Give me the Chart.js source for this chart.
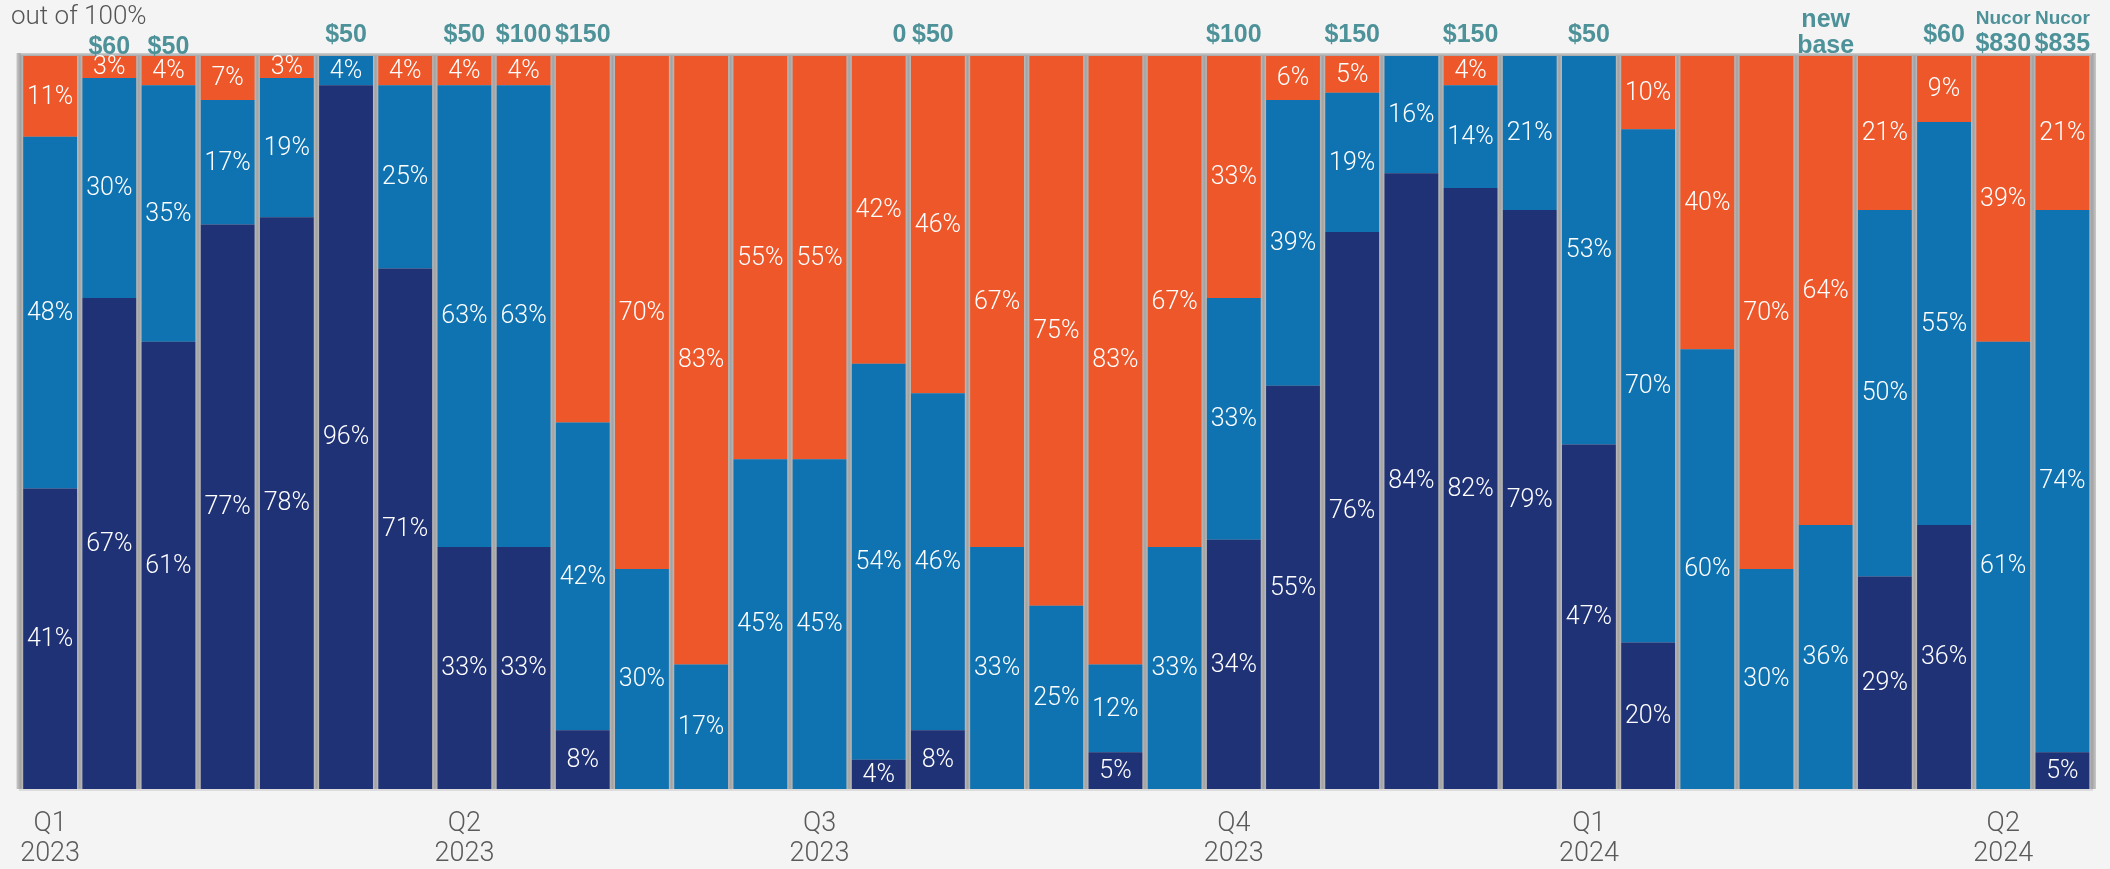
<!DOCTYPE html>
<html>
<head>
<meta charset="utf-8">
<script src="https://cdn.jsdelivr.net/npm/chart.js@4.4.1/dist/chart.umd.min.js"></script>
<style>
  html, body { margin: 0; padding: 0; background: #f4f4f4; }
  #wrap { width: 2110px; height: 869px; position: relative; }
</style>
</head>
<body>
<div id="wrap"><canvas id="mixChart"></canvas></div>
<script>
// one bar per period, shares out of 100%
const quarterLabels = [
  'Q1\n2023', '', '', '', '', '', '', 'Q2\n2023', '', '', '', '', '', 'Q3\n2023', '', '', '', '', '',
  '', 'Q4\n2023', '', '', '', '', '', 'Q1\n2024', '', '', '', '', '', '', 'Q2\n2024', ''
]
const darkShare = [41, 67, 61, 77, 78, 96, 71, 33, 33, 8, 0, 0, 0, 0, 4, 8, 0, 0, 5, 0, 34, 55, 76, 84, 82, 79, 47, 20, 0, 0, 0, 29, 36, 0, 5]
const blueShare = [48, 30, 35, 17, 19, 4, 25, 63, 63, 42, 30, 17, 45, 45, 54, 46, 33, 25, 12, 33, 33, 39, 19, 16, 14, 21, 53, 70, 60, 30, 36, 50, 55, 61, 74]
const orangeShare = [11, 3, 4, 7, 3, 0, 4, 4, 4, 50, 70, 83, 55, 55, 42, 46, 67, 75, 83, 67, 33, 6, 5, 0, 4, 0, 0, 10, 40, 70, 64, 21, 9, 39, 21]
// which segment values get a printed label (orange 50% of the $150 bar has none)
const hiddenLabels = [{ ds: 2, i: 9 }]
const priceNotes = [
  '', '$60', '$50', '', '', '$50', '', '$50', '$100', '$150', '', '', '', '', '0', '$50', '', '', '', '',
  '$100', '', '$150', '', '$150', '', '$50', '', '', '', 'new\nbase', '', '$60', 'Nucor\n$830', 'Nucor\n$835'
]

const navy = '#203276'
const blue = '#1073b1'
const orange = '#ed572a'
const teal = '#4d9199'

const ctx = document.getElementById('mixChart').getContext('2d')

// gray frame and soft separators behind the bars
const frameBehind = {
  id: 'frameBehind',
  beforeDatasetsDraw(chart) {
    const { ctx, chartArea: a } = chart
    const n = quarterLabels.length
    const pitch = (a.right - a.left) / n
    ctx.save()
    ctx.fillStyle = '#bcbcbc'
    ctx.fillRect(a.left, a.top - 3, a.right - a.left, a.bottom - a.top + 3)
    for (let k = 0; k <= n; k++) {
      const x = a.left + k * pitch
      const g = ctx.createLinearGradient(x - 4, 0, x + 4, 0)
      g.addColorStop(0, '#c8c8c8')
      g.addColorStop(0.5, '#a2a2a2')
      g.addColorStop(1, '#c8c8c8')
      ctx.fillStyle = g
      ctx.fillRect(x - 4, a.top - 3, 8, a.bottom - a.top + 3)
    }
    const tg = ctx.createLinearGradient(0, a.top - 3, 0, a.top)
    tg.addColorStop(0, '#cfcfcf')
    tg.addColorStop(1, '#a8a8a8')
    ctx.fillStyle = tg
    ctx.fillRect(a.left, a.top - 3, a.right - a.left, 3)
    ctx.restore()
  }
}

// white percentages inside segments, teal notes above bars
const segmentText = {
  id: 'segmentText',
  afterDatasetsDraw(chart) {
    const { ctx, chartArea: a } = chart
    ctx.save()
    ctx.textAlign = 'center'
    ctx.textBaseline = 'middle'
    ctx.fillStyle = '#ffffff'
    ctx.font = '300 25px Roboto, "Liberation Sans", sans-serif'
    chart.data.datasets.forEach((ds, di) => {
      chart.getDatasetMeta(di).data.forEach((bar, i) => {
        const v = ds.data[i]
        if (!v) return
        if (hiddenLabels.some(h => h.ds === di && h.i === i)) return
        const top = Math.max(bar.y, a.top)
        ctx.fillText(v + '%', bar.x, (top + bar.base) / 2 + 1)
      })
    })

    const xs = chart.scales.x
    const pitch = (a.right - a.left) / quarterLabels.length
    const lowNotes = [1, 2]
    const boldFont = 'bold 25px "Liberation Sans", Arial, sans-serif'
    ctx.fillStyle = teal
    ctx.textBaseline = 'alphabetic'
    priceNotes.forEach((note, i) => {
      if (!note) return
      const x = xs.getPixelForValue(i)
      const lines = note.split('\n')
      ctx.font = boldFont
      if (i === 14) {
        // squeezed next to the following note
        ctx.textAlign = 'right'
        ctx.fillText(note, x + pitch / 2 - 2, 42)
        ctx.textAlign = 'center'
        return
      }
      if (i === 15) {
        ctx.fillText(note, x - 5, 42)
        return
      }
      if (lines.length === 2) {
        const small = lines[0] === 'Nucor'
        ctx.font = small ? 'bold 19px "Liberation Sans", Arial, sans-serif' : boldFont
        ctx.fillText(lines[0], x, small ? 24 : 27)
        ctx.font = boldFont
        ctx.fillText(lines[1], x, small ? 51 : 53)
      } else {
        ctx.fillText(note, x, lowNotes.includes(i) ? 54 : 42)
      }
    })
    ctx.restore()
  }
}

new Chart(ctx, {
  type: 'bar',
  data: {
    labels: quarterLabels,
    datasets: [
      { label: 'dark', data: darkShare, backgroundColor: navy },
      { label: 'blue', data: blueShare, backgroundColor: blue },
      { label: 'orange', data: orangeShare, backgroundColor: orange }
    ]
  },
  options: {
    responsive: true,
    maintainAspectRatio: false,
    animation: false,
    layout: {
      padding: { top: 0, left: 11, right: 18, bottom: 0 }
    },
    datasets: {
      bar: { barPercentage: 0.91, categoryPercentage: 1, borderWidth: 0 }
    },
    plugins: {
      legend: { display: false },
      tooltip: { enabled: false },
      title: {
        display: true,
        text: 'out of 100%',
        align: 'start',
        color: '#555555',
        font: { family: 'Roboto, "Liberation Sans", sans-serif', size: 26, weight: '300', lineHeight: 1.2 },
        padding: { top: 2, bottom: 22.8 }
      }
    },
    scales: {
      x: {
        stacked: true,
        grid: { display: false, drawTicks: false },
        border: { display: true, color: '#dcdcdc', width: 3 },
        ticks: {
          autoSkip: false,
          maxRotation: 0,
          padding: 20,
          color: '#5a5a5a',
          font: { family: 'Roboto, "Liberation Sans", sans-serif', size: 27, weight: '300', lineHeight: 1.12 },
          callback: (v, i) => quarterLabels[i] ? quarterLabels[i].split('\n') : ''
        },
        afterFit: (scale) => { scale.height = 80 }
      },
      y: {
        stacked: true,
        display: false,
        min: 0,
        max: 100
      }
    }
  },
  plugins: [frameBehind, segmentText]
})
</script>
</body>
</html>
